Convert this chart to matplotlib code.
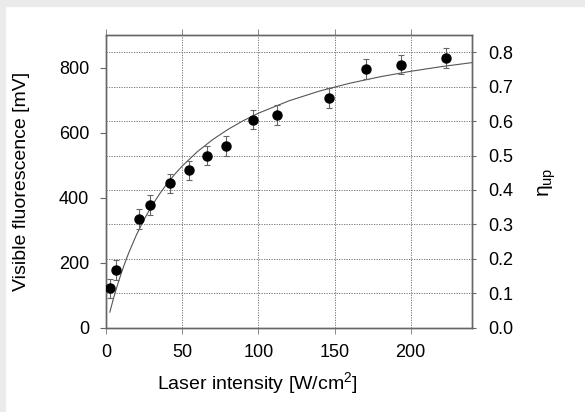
import numpy as np
import matplotlib
matplotlib.use("Agg")
import matplotlib.pyplot as plt
from matplotlib.patches import Rectangle

plt.rcParams['font.family'] = ['Liberation Sans', 'DejaVu Sans']
plt.rcParams['mathtext.fontset'] = 'custom'
plt.rcParams['mathtext.rm'] = 'Liberation Sans'
plt.rcParams['mathtext.it'] = 'Liberation Sans:italic'

# measured points
intensity = [2.6, 6.4, 21.9, 28.9, 41.9, 54.6, 66.0, 78.5, 96.3, 112.0, 146.3, 170.4, 193.4, 223.0]
fluor = [121, 177, 335, 377, 444, 484, 529, 559, 640, 654, 707, 796, 809, 829]
fluor_err = [29, 31, 30, 30, 30, 30, 30, 30, 30, 30, 30, 30, 29, 30]

# saturation fit curve
fit_x = [2.5, 5, 7.5, 10, 12.5, 15, 20, 25, 30, 35, 40, 45, 50, 60, 70, 80, 90, 100,
         120, 140, 160, 180, 200, 220, 240]
fit_y = [47.9, 91.4, 131.0, 167.2, 200.5, 231.1, 285.7, 332.9, 374.0, 410.3, 442.4,
         471.2, 497.0, 541.4, 578.4, 609.6, 636.4, 659.5, 697.5, 727.5, 751.7, 771.7,
         788.4, 802.7, 815.0]

xticks = [0, 50, 100, 150, 200]
yticks_left = [0, 200, 400, 600, 800]
yticks_right = [0.0, 0.1, 0.2, 0.3, 0.4, 0.5, 0.6, 0.7, 0.8]

fig = plt.figure(figsize=(5.85, 4.12), dpi=100)
fig.patches.append(Rectangle((0, 1 - 6 / 412), 1, 6 / 412, transform=fig.transFigure,
                             color='#ebebeb', zorder=0))
fig.patches.append(Rectangle((0, 0), 5 / 585, 1, transform=fig.transFigure,
                             color='#ebebeb', zorder=0))

ax = fig.add_axes([106 / 585, 1 - 327.7 / 412, 365.7 / 585, 292.7 / 412])
ax2 = ax.twinx()

grid_kw = dict(color='#666666', lw=0.6, ls=(0, (1.5, 1.5)))
ax.set_xlim(0, 240)
ax.set_ylim(0, 900)
ax2.set_ylim(0, 0.85)
ax.set_xticks(xticks)
ax.set_yticks(yticks_left)
ax2.set_yticks(yticks_right)
ax2.set_yticklabels(['%.1f' % v for v in yticks_right])
ax.xaxis.grid(True, **grid_kw)
ax2.yaxis.grid(True, **grid_kw)
ax.set_axisbelow(True)

ax.plot(fit_x, fit_y, color='#555555', lw=0.8, zorder=3)
ax.errorbar(intensity, fluor, yerr=fluor_err, fmt='o', color='black', ms=6.5,
            ecolor='#666666', elinewidth=0.8, capsize=2.2, capthick=0.8, zorder=4)

for a in (ax, ax2):
    for s in a.spines.values():
        s.set_color('#666666')
        s.set_linewidth(1.0)
ax.tick_params(axis='x', direction='out', length=4, width=0.7, color='#888888',
               labelsize=13, pad=8, top=True)
ax.tick_params(axis='y', direction='out', length=4, width=0.8, color='#666666',
               labelsize=13, pad=8)
ax2.tick_params(axis='y', direction='out', length=3, width=0.8, color='#666666',
                labelsize=13, pad=9)

ax.set_xlabel('Laser intensity [W/cm$^2$]', fontsize=14)
ax.xaxis.label.set_va('center')
ax.xaxis.set_label_coords(0.414, (327.7 - 383) / 292.7)
ax.set_ylabel('Visible fluorescence [mV]', fontsize=14)
ax.yaxis.label.set_va('center')
ax.yaxis.set_label_coords((22 - 106) / 365.7, 0.5)
ax2.set_ylabel(r'$\mathrm{η}_{\mathrm{up}}$', fontsize=15, rotation=90)
ax2.yaxis.label.set_va('center')
ax2.yaxis.set_label_coords((547.5 - 106) / 365.7, 0.498)

ax.set_zorder(ax2.get_zorder() + 1)
ax.patch.set_visible(False)

fig.savefig('out.png', dpi=100)
